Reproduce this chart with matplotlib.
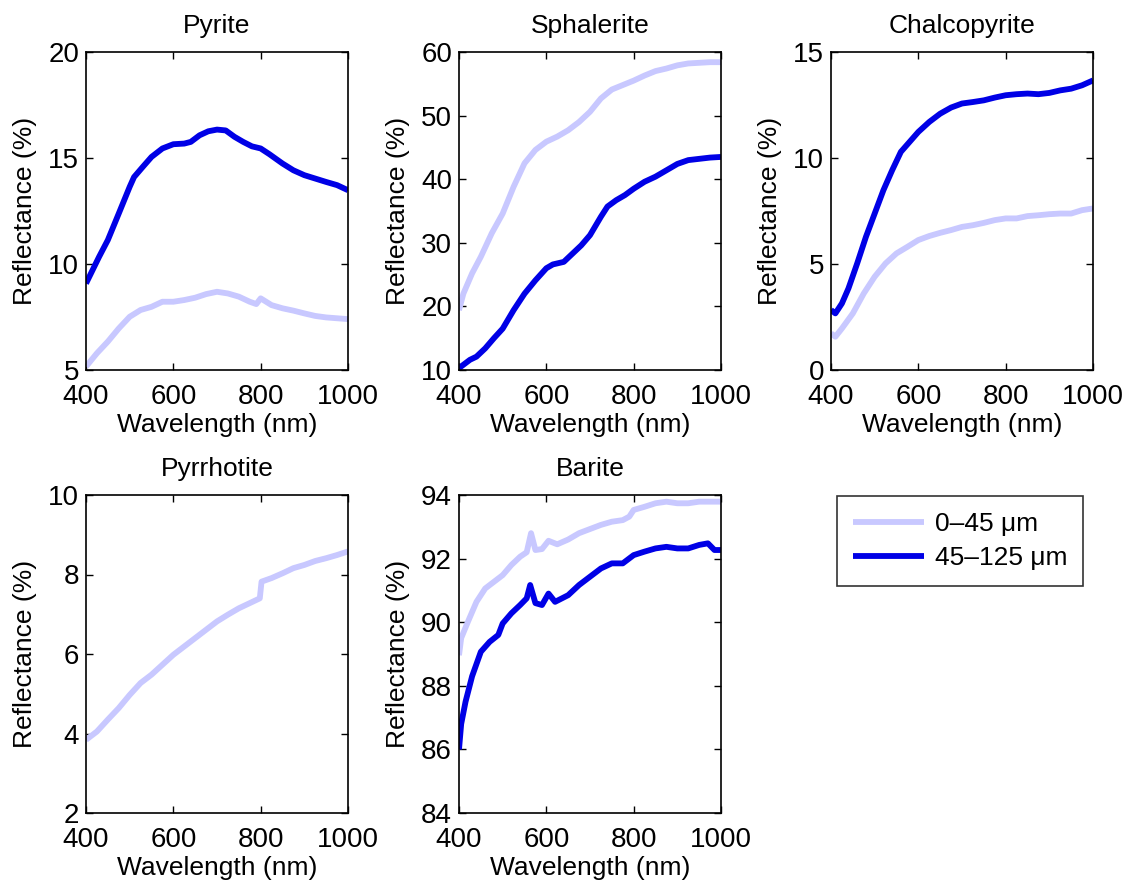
'''reflectance spectra of sulfide / barite powders, two grain-size fractions
'''
import matplotlib
matplotlib.use('Agg')
import matplotlib.pyplot as plt

plt.rcParams['font.family'] = ['Liberation Sans', 'DejaVu Sans']

LIGHT = '#c8c8ff'
DARK = '#0000e6'
FINE_LABEL = '0\u201345 \u03bcm'
COARSE_LABEL = '45\u2013125 \u03bcm'

# --- Pyrite ---
pyrite_wl_dark = [400, 430, 450, 475, 500, 510, 530, 550, 575, 600, 625, 640, 660, 680, 700,
                  720, 740, 760, 780, 800, 820, 850, 875, 900, 925, 950, 975, 1000]
pyrite_dark = [9.08, 10.34, 11.13, 12.38, 13.64, 14.1, 14.58, 15.05, 15.45, 15.65, 15.68, 15.76,
               16.07, 16.26, 16.34, 16.3, 16.0, 15.76, 15.55, 15.45, 15.18, 14.74, 14.42, 14.19,
               14.03, 13.87, 13.72, 13.48]
pyrite_wl_light = [400, 425, 450, 475, 500, 525, 550, 575, 600, 625, 650, 675, 700, 725, 750,
                   775, 790, 800, 825, 850, 875, 900, 925, 950, 975, 1000]
pyrite_light = [5.16, 5.79, 6.34, 6.96, 7.51, 7.83, 7.98, 8.22, 8.22, 8.3, 8.41, 8.58, 8.69, 8.61,
                8.46, 8.22, 8.11, 8.38, 8.06, 7.91, 7.8, 7.67, 7.55, 7.48, 7.44, 7.4]

# --- Sphalerite ---
sphal_wl_light = [400, 410, 430, 450, 475, 500, 525, 550, 575, 600, 625, 650, 675, 700, 725,
                  750, 775, 800, 825, 850, 875, 900, 925, 950, 975, 1000]
sphal_light = [19.4, 22.0, 25.2, 27.8, 31.5, 34.6, 38.8, 42.5, 44.6, 45.9, 46.7, 47.7, 49.0, 50.6,
               52.7, 54.1, 54.8, 55.5, 56.3, 57.0, 57.4, 57.9, 58.2, 58.3, 58.4, 58.4]
sphal_wl_dark = [400, 425, 440, 460, 480, 500, 525, 550, 575, 600, 615, 640, 660, 680, 700,
                 725, 740, 760, 780, 800, 825, 850, 875, 900, 925, 950, 975, 1000]
sphal_dark = [10.3, 11.6, 12.1, 13.4, 15.0, 16.5, 19.4, 22.0, 24.1, 26.0, 26.6, 27.0, 28.3, 29.6,
              31.2, 34.1, 35.7, 36.7, 37.5, 38.5, 39.6, 40.4, 41.4, 42.4, 43.0, 43.2, 43.4, 43.5]

# --- Chalcopyrite ---
chalco_wl_dark = [400, 410, 425, 440, 460, 480, 500, 520, 540, 560, 580, 600, 625, 650, 675,
                  700, 725, 750, 775, 800, 825, 850, 875, 900, 925, 950, 975, 1000]
chalco_dark = [2.83, 2.67, 3.14, 3.85, 5.03, 6.28, 7.38, 8.48, 9.42, 10.29, 10.76, 11.23, 11.7,
               12.09, 12.38, 12.57, 12.64, 12.72, 12.85, 12.96, 13.01, 13.04, 13.01, 13.07, 13.19,
               13.27, 13.43, 13.66]
chalco_wl_light = [400, 410, 425, 450, 475, 500, 525, 550, 575, 600, 625, 650, 675, 700, 725,
                   750, 775, 800, 825, 850, 875, 900, 925, 950, 975, 1000]
chalco_light = [1.73, 1.57, 1.96, 2.67, 3.61, 4.4, 5.03, 5.5, 5.81, 6.13, 6.32, 6.47, 6.6, 6.75,
                6.83, 6.94, 7.07, 7.15, 7.15, 7.26, 7.3, 7.35, 7.38, 7.38, 7.54, 7.62]

# --- Pyrrhotite (fine fraction only) ---
pyrrh_wl_light = [400, 425, 450, 475, 500, 525, 550, 575, 600, 625, 650, 675, 700, 725, 750,
                  775, 798, 802, 825, 850, 875, 900, 925, 950, 975, 1000]
pyrrh_light = [3.84, 4.05, 4.35, 4.64, 4.97, 5.27, 5.48, 5.73, 5.98, 6.19, 6.4, 6.61, 6.82, 6.99,
               7.15, 7.28, 7.4, 7.82, 7.91, 8.03, 8.16, 8.24, 8.34, 8.41, 8.49, 8.58]

# --- Barite ---
barite_wl_light = [400, 405, 420, 440, 460, 480, 500, 520, 540, 555, 565, 575, 590, 605, 625,
                   650, 675, 700, 725, 750, 775, 790, 800, 825, 850, 875, 900, 925, 950, 975, 1000]
barite_light = [88.96, 89.5, 90.0, 90.64, 91.06, 91.27, 91.48, 91.8, 92.06, 92.2, 92.8, 92.27,
                92.3, 92.56, 92.45, 92.6, 92.8, 92.93, 93.06, 93.16, 93.21, 93.32, 93.53, 93.63,
                93.74, 93.79, 93.74, 93.74, 93.79, 93.79, 93.79]
barite_wl_dark = [400, 405, 415, 430, 450, 470, 490, 500, 520, 540, 555, 563, 575, 590, 605, 620,
                  650, 675, 700, 725, 750, 775, 800, 825, 850, 875, 900, 925, 950, 970, 985, 1000]
barite_dark = [86.0, 86.8, 87.5, 88.3, 89.07, 89.38, 89.6, 89.96, 90.28, 90.54, 90.75, 91.17,
               90.6, 90.54, 90.9, 90.64, 90.85, 91.17, 91.43, 91.69, 91.85, 91.85, 92.11, 92.22,
               92.32, 92.37, 92.32, 92.32, 92.43, 92.48, 92.27, 92.27]

panels = [
    ('Pyrite', (5, 20), [5, 10, 15, 20], (pyrite_wl_light, pyrite_light), (pyrite_wl_dark, pyrite_dark)),
    ('Sphalerite', (10, 60), [10, 20, 30, 40, 50, 60], (sphal_wl_light, sphal_light), (sphal_wl_dark, sphal_dark)),
    ('Chalcopyrite', (0, 15), [0, 5, 10, 15], (chalco_wl_light, chalco_light), (chalco_wl_dark, chalco_dark)),
    ('Pyrrhotite', (2, 10), [2, 4, 6, 8, 10], (pyrrh_wl_light, pyrrh_light), None),
    ('Barite', (84, 94), [84, 86, 88, 90, 92, 94], (barite_wl_light, barite_light), (barite_wl_dark, barite_dark)),
]

W, H = 1128, 884
lefts = [86, 459, 831]
tops = [52, 495]
aw, ah = 262, 318

fig = plt.figure(figsize=(W / 100, H / 100), dpi=100)
handles = []
for k, (name, ylim, yticks, light, dark) in enumerate(panels):
    row, col = divmod(k, 3)
    ax = fig.add_axes([lefts[col] / W, 1 - (tops[row] + ah) / H, aw / W, ah / H])
    hl, = ax.plot(light[0], light[1], color=LIGHT, linewidth=4.2, solid_capstyle='butt')
    if dark is not None:
        hd, = ax.plot(dark[0], dark[1], color=DARK, linewidth=4.2, solid_capstyle='butt')
        if not handles:
            handles = [hl, hd]
    ax.set_xlim(400, 1000)
    ax.set_ylim(*ylim)
    ax.set_xticks([400, 600, 800, 1000])
    ax.set_yticks(yticks)
    ax.tick_params(direction='in', top=True, right=True, length=5, width=1, labelsize=20)
    ax.tick_params(axis='x', pad=10)
    ax.tick_params(axis='y', pad=5)
    for s in ax.spines.values():
        s.set_linewidth(1.2)
    ax.set_xlabel('Wavelength (nm)', fontsize=19, labelpad=2)
    ax.set_ylabel('Reflectance (%)', fontsize=19, labelpad=8)
    ax.set_title(name, fontsize=19, pad=14)

leg = fig.legend(handles, [FINE_LABEL, COARSE_LABEL], loc='upper left',
                 bbox_to_anchor=(837 / W, 1 - 496 / H), borderaxespad=0, fontsize=19,
                 frameon=True, fancybox=False, handlelength=2.7, borderpad=0.6,
                 labelspacing=0.4, handletextpad=0.4)
leg.get_frame().set_edgecolor('black')
leg.get_frame().set_linewidth(1.2)

fig.savefig('out.png', dpi=100)
